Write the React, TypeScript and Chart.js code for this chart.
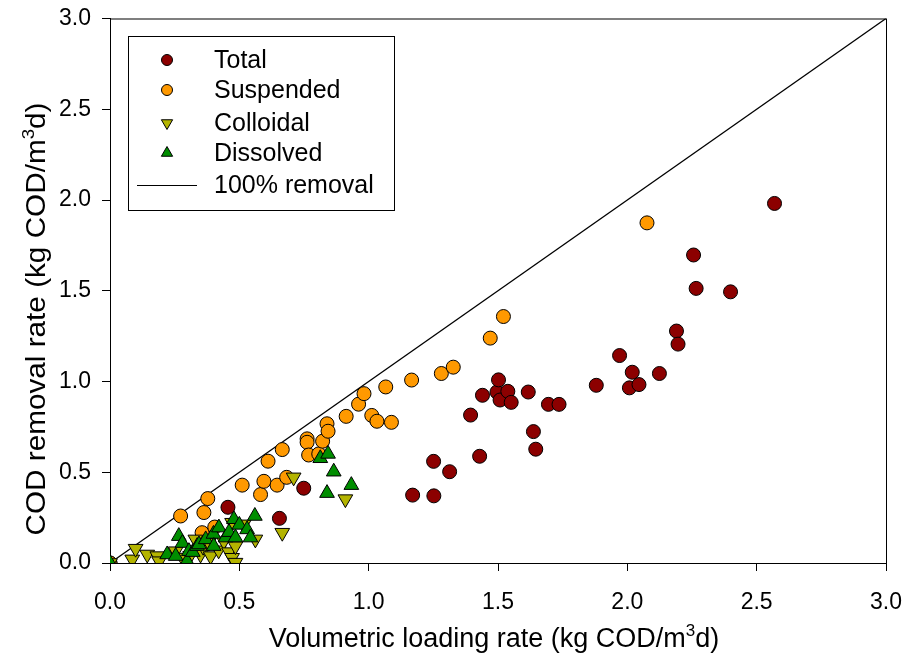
import React, { useEffect, useRef } from "react";
import { Chart, registerables } from "chart.js";

Chart.register(...registerables);

// ---- Data ----
const totalX = [0, 0.456, 0.655, 0.749, 1.17, 1.252, 1.251, 1.313, 1.394, 1.429, 1.44, 1.496, 1.502, 1.508, 1.538, 1.551, 1.617, 1.637, 1.646, 1.695, 1.736, 1.88, 1.97, 2.008, 2.019, 2.045, 2.124, 2.19, 2.196, 2.256, 2.266, 2.399, 2.569];
const totalY = [0, 0.307, 0.246, 0.412, 0.374, 0.37, 0.56, 0.503, 0.815, 0.588, 0.924, 0.942, 1.009, 0.898, 0.946, 0.885, 0.942, 0.724, 0.627, 0.874, 0.874, 0.979, 1.143, 0.965, 1.051, 0.983, 1.044, 1.278, 1.206, 1.697, 1.513, 1.494, 1.981];

const suspX = [0, 0.273, 0.356, 0.363, 0.378, 0.405, 0.511, 0.582, 0.595, 0.611, 0.646, 0.666, 0.683, 0.762, 0.762, 0.768, 0.807, 0.822, 0.839, 0.843, 0.913, 0.961, 0.982, 1.012, 1.032, 1.066, 1.088, 1.166, 1.281, 1.327, 1.47, 1.521, 2.076];
const suspY = [0, 0.259, 0.167, 0.278, 0.355, 0.198, 0.429, 0.377, 0.45, 0.561, 0.429, 0.625, 0.472, 0.684, 0.665, 0.595, 0.601, 0.671, 0.767, 0.726, 0.808, 0.875, 0.933, 0.813, 0.781, 0.97, 0.775, 1.008, 1.044, 1.079, 1.239, 1.358, 1.874];

const collX = [0, 0.086, 0.099, 0.144, 0.183, 0.19, 0.254, 0.28, 0.31, 0.33, 0.35, 0.36, 0.382, 0.389, 0.42, 0.44, 0.46, 0.472, 0.472, 0.485, 0.485, 0.517, 0.562, 0.666, 0.71, 0.91];
const collY = [0, 0.02, 0.079, 0.047, 0.038, 0.01, 0.065, 0.03, 0.04, 0.13, 0.047, 0.09, 0.112, 0.038, 0.07, 0.12, 0.06, 0.222, 0.029, 0.002, 0.093, 0.213, 0.13, 0.167, 0.472, 0.352];

const dissX = [0, 0.221, 0.254, 0.266, 0.28, 0.298, 0.305, 0.32, 0.337, 0.344, 0.37, 0.4, 0.401, 0.421, 0.447, 0.46, 0.479, 0.485, 0.5, 0.53, 0.543, 0.56, 0.813, 0.843, 0.865, 0.839, 0.933];
const dissY = [0, 0.047, 0.038, 0.148, 0.11, 0.01, 0.065, 0.06, 0.093, 0.102, 0.13, 0.16, 0.093, 0.195, 0.14, 0.17, 0.241, 0.14, 0.21, 0.185, 0.14, 0.259, 0.577, 0.601, 0.503, 0.385, 0.429];

const lineX = [0, 3];
const lineY = [0, 3];

const seriesNames = ["Total", "Suspended", "Colloidal", "Dissolved", "100% removal"];
const tickValues = [0, 0.5, 1, 1.5, 2, 2.5, 3];
const xTitleMain = "Volumetric loading rate (kg COD/m";
const yTitleMain = "COD removal rate (kg COD/m";
const titleSup = "3";
const titleEnd = "d)";

const COLORS = {
  total: "#8c0000",
  susp: "#ff9900",
  coll: "#b4b400",
  diss: "#008e00",
};

const FONT = "'Liberation Sans', Arial, sans-serif";

const zip = (xs: number[], ys: number[]) => xs.map((x, i) => ({ x, y: ys[i] }));

function drawTitleWithSup(ctx: CanvasRenderingContext2D, main: string, size: number) {
  const supSize = Math.round(size * 0.62);
  ctx.font = `${size}px ${FONT}`;
  const w1 = ctx.measureText(main).width;
  const w3 = ctx.measureText(titleEnd).width;
  ctx.font = `${supSize}px ${FONT}`;
  const w2 = ctx.measureText(titleSup).width;
  const total = w1 + w2 + w3;
  let x = -total / 2;
  ctx.textAlign = "left";
  ctx.textBaseline = "alphabetic";
  ctx.font = `${size}px ${FONT}`;
  ctx.fillText(main, x, 0);
  x += w1;
  ctx.font = `${supSize}px ${FONT}`;
  ctx.fillText(titleSup, x, -size * 0.42);
  x += w2;
  ctx.font = `${size}px ${FONT}`;
  ctx.fillText(titleEnd, x, 0);
}

const decorPlugin = {
  id: "decor",
  beforeDatasetsDraw(chart: any) {
    const { ctx, chartArea } = chart;
    ctx.save();
    ctx.strokeStyle = "#000";
    ctx.lineWidth = 1;
    ctx.strokeRect(chartArea.left + 0.5, chartArea.top + 0.5, chartArea.right - chartArea.left, chartArea.bottom - chartArea.top);
    ctx.restore();
  },
  afterDraw(chart: any) {
    const { ctx, chartArea } = chart;
    ctx.save();
    ctx.fillStyle = "#000";
    // x title
    ctx.save();
    ctx.translate((chartArea.left + chartArea.right) / 2 - 4, 647);
    drawTitleWithSup(ctx, xTitleMain, 27);
    ctx.restore();
    // y title
    ctx.save();
    ctx.translate(45, 319);
    ctx.rotate(-Math.PI / 2);
    ctx.scale(1.1, 1);
    drawTitleWithSup(ctx, yTitleMain, 27);
    ctx.restore();

    // legend
    const L = chartArea.left + 18;
    const T = chartArea.top + 17.5;
    ctx.strokeStyle = "#000";
    ctx.lineWidth = 1;
    ctx.strokeRect(L + 0.5, T + 0.5, 266, 174);
    const rows = [24, 54, 87, 117, 149];
    const mx = L + 39;
    const tx = L + 86;
    ctx.font = `25px ${FONT}`;
    ctx.textAlign = "left";
    ctx.textBaseline = "middle";
    seriesNames.forEach((name, i) => {
      const y = T + rows[i];
      ctx.fillStyle = "#000";
      ctx.fillText(name, tx, y + 1);
      ctx.lineWidth = 1;
      ctx.strokeStyle = "#000";
      if (i === 0 || i === 1) {
        ctx.beginPath();
        ctx.arc(mx, y, 5.5, 0, Math.PI * 2);
        ctx.fillStyle = i === 0 ? COLORS.total : COLORS.susp;
        ctx.fill();
        ctx.stroke();
      } else if (i === 2) {
        const r = 6.5;
        ctx.beginPath();
        ctx.moveTo(mx, y + r);
        ctx.lineTo(mx - r * 0.866, y - r / 2);
        ctx.lineTo(mx + r * 0.866, y - r / 2);
        ctx.closePath();
        ctx.fillStyle = COLORS.coll;
        ctx.fill();
        ctx.stroke();
      } else if (i === 3) {
        const r = 6.5;
        ctx.beginPath();
        ctx.moveTo(mx, y - r);
        ctx.lineTo(mx - r * 0.866, y + r / 2);
        ctx.lineTo(mx + r * 0.866, y + r / 2);
        ctx.closePath();
        ctx.fillStyle = COLORS.diss;
        ctx.fill();
        ctx.stroke();
      } else {
        ctx.beginPath();
        ctx.moveTo(L + 9, y + 0.5);
        ctx.lineTo(L + 69, y + 0.5);
        ctx.stroke();
      }
    });
    ctx.restore();
  },
};

export default function App() {
  const ref = useRef<HTMLCanvasElement | null>(null);
  useEffect(() => {
    if (!ref.current) return;
    const pointBase = { borderColor: "#000", borderWidth: 1, showLine: false };
    const chart = new Chart(ref.current, {
      type: "scatter",
      data: {
        datasets: [
          {
            label: seriesNames[3],
            data: zip(dissX, dissY),
            backgroundColor: COLORS.diss,
            pointStyle: "triangle",
            pointRadius: 8.5,
            order: 0,
            ...pointBase,
          },
          {
            label: seriesNames[2],
            data: zip(collX, collY),
            backgroundColor: COLORS.coll,
            pointStyle: "triangle",
            pointRotation: 180,
            pointRadius: 8.5,
            order: 1,
            ...pointBase,
          },
          {
            label: seriesNames[1],
            data: zip(suspX, suspY),
            backgroundColor: COLORS.susp,
            pointStyle: "circle",
            pointRadius: 7,
            order: 2,
            ...pointBase,
          },
          {
            label: seriesNames[0],
            data: zip(totalX, totalY),
            backgroundColor: COLORS.total,
            pointStyle: "circle",
            pointRadius: 7,
            order: 3,
            ...pointBase,
          },
          {
            label: seriesNames[4],
            data: zip(lineX, lineY),
            showLine: true,
            borderColor: "#000",
            borderWidth: 1.3,
            pointRadius: 0,
            order: 4,
          } as any,
        ],
      },
      options: {
        responsive: false,
        maintainAspectRatio: false,
        animation: false,
        layout: { padding: { left: 0, right: 22, top: 18.5, bottom: 0 } },
        plugins: { legend: { display: false }, tooltip: { enabled: false } },
        scales: {
          x: {
            type: "linear",
            min: 0,
            max: 3,
            afterFit: (s: any) => { s.height = 101; s.paddingLeft = 0; s.paddingRight = 0; },
            afterBuildTicks: (s: any) => { s.ticks = tickValues.map((v) => ({ value: v })); },
            ticks: {
              color: "#000",
              font: { family: FONT, size: 23 },
              padding: 18,
              maxRotation: 0,
              callback: (v: any) => Number(v).toFixed(1),
            },
            grid: { drawOnChartArea: false, drawTicks: true, tickLength: 8, color: "#000", lineWidth: 1 },
            border: { display: true, color: "#000", width: 1 },
          },
          y: {
            type: "linear",
            min: 0,
            max: 3,
            afterFit: (s: any) => { s.width = 110; s.paddingTop = 0; s.paddingBottom = 0; },
            afterBuildTicks: (s: any) => { s.ticks = tickValues.map((v) => ({ value: v })); },
            ticks: {
              color: "#000",
              font: { family: FONT, size: 23 },
              padding: 11,
              callback: (v: any) => Number(v).toFixed(1),
            },
            grid: { drawOnChartArea: false, drawTicks: true, tickLength: 8, color: "#000", lineWidth: 1 },
            border: { display: true, color: "#000", width: 1 },
          },
        },
      },
      plugins: [decorPlugin],
    });
    return () => chart.destroy();
  }, []);
  return (
    <div style={{ position: "absolute", left: 0, top: 0, width: 908, height: 664, background: "#fff" }}>
      <canvas ref={ref} width={908} height={664} />
    </div>
  );
}
